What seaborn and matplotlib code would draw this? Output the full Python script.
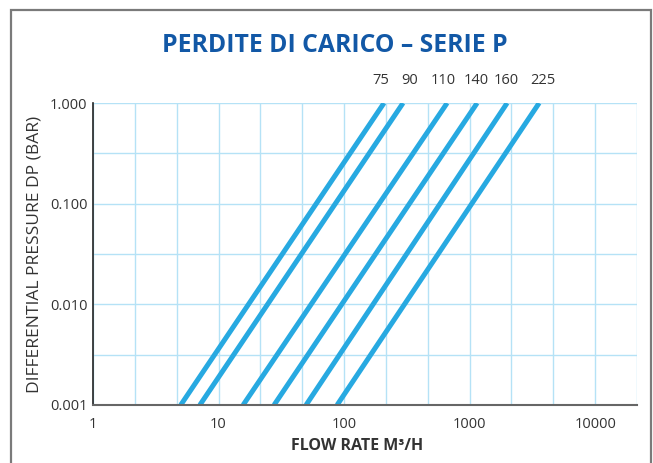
import numpy as np
import pandas as pd
import matplotlib
matplotlib.use('Agg')
import matplotlib.pyplot as plt
from matplotlib.patches import Rectangle
from matplotlib.ticker import FixedLocator, NullFormatter
import seaborn as sns

# pipe sizes and flow read at the two ends of each line (DP = 0.001 and 1 bar)
sizes = [75, 90, 110, 140, 160, 225]
flow_low = [5.0, 7.1, 15.7, 27.7, 49.8, 88.0]
flow_high = [208, 295, 662, 1148, 1990, 3580]
dp_ends = [0.001, 1.0]

x_ticks = [1, 10, 100, 1000, 10000]
x_labels = ['1', '10', '100', '1000', '10000']
y_ticks = [0.001, 0.01, 0.1, 1.0]
y_labels = ['0.001', '0.010', '0.100', '1.000']

rows = []
for s, lo, hi in zip(sizes, flow_low, flow_high):
    rows.append({'size': s, 'q': lo, 'dp': dp_ends[0]})
    rows.append({'size': s, 'q': hi, 'dp': dp_ends[1]})
df = pd.DataFrame(rows)

sns.set_style('white')
plt.rcParams['font.family'] = ['Open Sans', 'DejaVu Sans']

line_col = '#27a9e1'
grid_col = '#b5e2f6'
text_col = '#333333'

fig = plt.figure(figsize=(6.53, 4.63), dpi=100)
ax = fig.add_axes([93/653, 1 - 405/463, 544/653, 302/463])

sns.lineplot(data=df, x='q', y='dp', units='size', estimator=None,
             color=line_col, lw=3.6, ax=ax, legend=False)
for ln in ax.get_lines():
    ln.set_solid_capstyle('butt')

ax.set_xscale('log')
ax.set_yscale('log')
ax.set_xlim(1, 10 ** (13 / 3))
ax.set_ylim(0.001, 1.0)

ax.xaxis.set_major_locator(FixedLocator(x_ticks))
ax.set_xticklabels(x_labels)
ax.xaxis.set_minor_locator(FixedLocator([10 ** (k / 3) for k in range(14) if k % 3]))
ax.xaxis.set_minor_formatter(NullFormatter())
ax.yaxis.set_major_locator(FixedLocator(y_ticks))
ax.set_yticklabels(y_labels)
ax.yaxis.set_minor_locator(FixedLocator([10 ** (k / 2) for k in (-5, -3, -1)]))
ax.yaxis.set_minor_formatter(NullFormatter())

ax.grid(True, which='both', color=grid_col, lw=1.0)
ax.set_axisbelow(True)
ax.tick_params(which='both', length=0, labelsize=10.5, colors=text_col)
ax.tick_params(axis='x', pad=9)
ax.tick_params(axis='y', pad=4)

for side in ['top', 'right']:
    ax.spines[side].set_visible(False)
ax.spines['left'].set_color('#222222')
ax.spines['bottom'].set_color('#666666')
ax.spines['left'].set_linewidth(1.2)
ax.spines['bottom'].set_linewidth(1.5)

ax.set_ylabel('DIFFERENTIAL PRESSURE DP (BAR)', fontsize=12.5, color=text_col)
ax.yaxis.set_label_coords(-0.092, 0.5)
ax.set_xlabel('FLOW RATE M³/H', fontsize=11.5, fontweight='bold', color=text_col)
ax.xaxis.set_label_coords(0.485, -0.11)

label_shift = [-2, 5, -3, -1, -1, 3]
for s, hi, dx in zip(sizes, flow_high, label_shift):
    ax.annotate(str(s), xy=(hi, 1.0), xytext=(dx, 11), textcoords='offset points',
                ha='center', va='bottom', fontsize=10.5, color=text_col,
                annotation_clip=False)

fig.text(335/653, 1 - 45/463, 'PERDITE DI CARICO – SERIE P', ha='center',
         va='center', fontsize=17.8, fontweight='bold', color='#1258a6')

fig.patches.append(Rectangle((11/653, -0.05), 640/653, 1 - 10/463 + 0.05,
                             transform=fig.transFigure, fill=False,
                             edgecolor='#7a7a7a', lw=1.6))

fig.savefig('out.png', dpi=100)
